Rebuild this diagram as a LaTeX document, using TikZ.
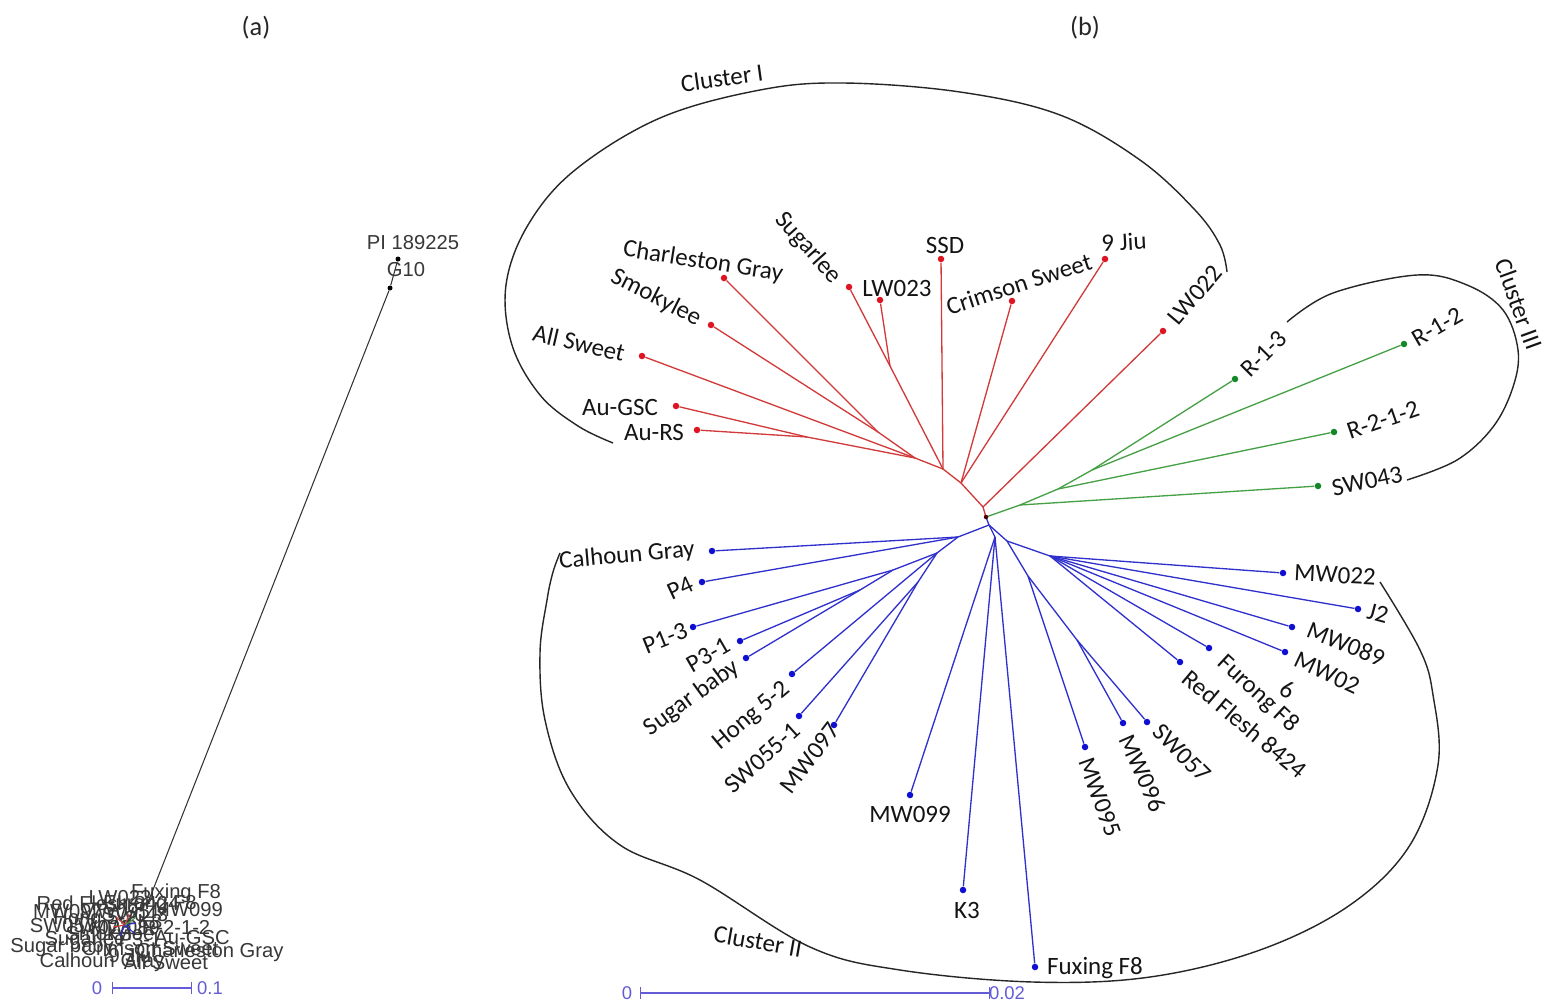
\documentclass[tikz,border=0pt]{standalone}
\usepackage{fontspec}
\setmainfont{Carlito}
\newfontfamily\arialf{Liberation Sans}
\definecolor{rl}{RGB}{210,58,58}
\definecolor{rd}{RGB}{222,20,35}
\definecolor{gl}{RGB}{70,160,70}
\definecolor{gd}{RGB}{20,135,40}
\definecolor{bl}{RGB}{48,48,205}
\definecolor{bd}{RGB}{15,15,210}
\definecolor{sc}{RGB}{100,92,215}
\begin{document}
\begin{tikzpicture}[x=0.02cm,y=-0.02cm,
  lab/.style={font=\fontsize{14.2}{16}\selectfont,text=black!92,inner sep=0pt},
  ttl/.style={font=\fontsize{15}{17}\selectfont,text=black!85,inner sep=0pt},
  al/.style={font=\arialf\fontsize{11.5}{13}\selectfont,text=black!78,inner sep=0pt},
  scl/.style={font=\arialf\fontsize{10.5}{12}\selectfont,text=sc,inner sep=0pt},
  leaf/.style={circle,inner sep=0pt,minimum size=0.13cm},
  rdot/.style={leaf,fill=rd},
  gdot/.style={leaf,fill=gd},
  bdot/.style={leaf,fill=bd},
  adot/.style={circle,inner sep=0pt,minimum size=0.1cm,fill=black},
  rbr/.style={draw=rl,line width=0.75pt},
  gbr/.style={draw=gl,line width=0.75pt},
  bbr/.style={draw=bl,line width=0.75pt},
  arcl/.style={draw=black!85,line width=0.8pt},
]
\useasboundingbox (0,0) rectangle (1551,1001);
\fill[white] (0,0) rectangle (1551,1001);

% titles
\node[ttl] (ta) at (256,28) {(a)};
\node[ttl] (tb) at (1085,28) {(b)};

% ---------------- panel (a) ----------------
\node[adot] (api) at (398,259) {};
\node[adot] (ag10) at (390,288) {};
\coordinate (acen) at (147,905);
\draw[black!80,line width=0.6pt] (api) -- (ag10) -- (acen);
\node[al] (tpi) at (413,243) {PI 189225};
\node[al] (tg10) at (406,270) {G10};

\node[al] (a1) at (176,893) {Fuxing F8};
\node[al] (a2) at (108,903) {Red Flesh 8424};
\node[al] (a3) at (188,910) {MW099};
\node[al] (a4) at (68,912) {MW097};
\node[al] (a5) at (63,926) {SW057};
\node[al] (a6) at (176,927) {R-2-1-2};
\node[al] (a7) at (192,938) {Au-GSC};
\node[al] (a8) at (62,947) {Sugar baby};
\node[al] (a9) at (210,952) {Charleston Gray};
\node[al] (a10) at (150,948) {Crimson Sweet};
\node[al] (a11) at (102,962) {Calhoun Gray};
\node[al] (a12) at (166,962) {All Sweet};
\node[al] (a13) at (120,898) {LW022};
\node[al] (a14) at (95,920) {Hong 5-2};
\node[al] (a15) at (135,915) {SW043};
\node[al] (a16) at (110,935) {Smokylee};
\node[al] (a17) at (150,905) {Furong F8};
\node[al] (a18) at (85,940) {Sugarlee};
\node[al] (a20) at (125,928) {MW089};
\node[al] (a21) at (115,912) {MW095};
\node[al] (a22) at (140,940) {P3-1};
\node[al] (a23) at (100,928) {LW023};
\node[al] (a24) at (150,922) {K3};
\node[al] (a25) at (130,955) {9 Jiu};
\coordinate (ast) at (125,925);
\draw[rl,line width=0.6pt] (ast) -- ++(-9,-8) (ast) -- ++(4,-11) (ast) -- ++(-12,2);
\draw[bl,line width=0.6pt] (ast) -- ++(9,8) (ast) -- ++(-5,11) (ast) -- ++(11,-2);
\draw[gl,line width=0.6pt] (ast) -- ++(10,-7);

% scale bar (a)
\node[scl] (sa0) at (97,988) {0};
\node[scl] (sa1) at (210,988) {0.1};
\coordinate (saL) at (112,988);
\coordinate (saR) at (192,988);
\draw[sc,line width=0.6pt,|-|] (saL) -- (saR);

% ---------------- panel (b) ----------------
% red leaves
\node[rdot] (CG) at (724,278) {};
\node[rdot] (SM) at (711,325) {};
\node[rdot] (AS) at (642,356) {};
\node[rdot] (AG) at (676,406) {};
\node[rdot] (AR) at (697,430) {};
\node[rdot] (SU) at (849,287) {};
\node[rdot] (LW23) at (880,300) {};
\node[rdot] (SSD) at (941,259) {};
\node[rdot] (CS) at (1012,301) {};
\node[rdot] (J9) at (1105,259) {};
\node[rdot] (LW22) at (1163,331) {};
% green leaves
\node[gdot] (R13) at (1235,379) {};
\node[gdot] (R12) at (1404,344) {};
\node[gdot] (R212) at (1334,432) {};
\node[gdot] (SW43) at (1318,486) {};
% blue leaves
\node[bdot] (CH) at (712,551) {};
\node[bdot] (P4) at (702,582) {};
\node[bdot] (P13) at (693,627) {};
\node[bdot] (P31) at (740,641) {};
\node[bdot] (SB) at (746,658) {};
\node[bdot] (H52) at (792,674) {};
\node[bdot] (SW551) at (799,716) {};
\node[bdot] (MW97) at (834,725) {};
\node[bdot] (MW99) at (910,795) {};
\node[bdot] (K3) at (963,890) {};
\node[bdot] (FX) at (1035,967) {};
\node[bdot] (MW95) at (1085,747) {};
\node[bdot] (MW96) at (1123,723) {};
\node[bdot] (SW57) at (1147,722) {};
\node[bdot] (RF) at (1180,662) {};
\node[bdot] (FU) at (1209,648) {};
\node[bdot] (MW26) at (1285,652) {};
\node[bdot] (MW89) at (1292,627) {};
\node[bdot] (J2) at (1358,609) {};
\node[bdot] (MW22) at (1283,573) {};

% internal nodes
\coordinate (R0) at (986,517);
\coordinate (r1) at (983,507);
\coordinate (r2) at (961,483);
\coordinate (r3) at (943,469);
\coordinate (r4) at (915,458);
\coordinate (r5) at (890,366);
\coordinate (r6) at (878,432);
\coordinate (r7) at (807,437);
\coordinate (g1) at (1020,505);
\coordinate (g2) at (1058,489);
\coordinate (g3) at (1092,470);
\coordinate (b0) at (989,525);
\coordinate (bl1) at (958,537);
\coordinate (bl2) at (937,553);
\coordinate (bl3) at (893,570);
\coordinate (bl5) at (860,590);
\coordinate (bl4) at (918,582);
\coordinate (bdn) at (995,537);
\coordinate (br1) at (1007,541);
\coordinate (br2) at (1050,556);
\coordinate (br3) at (1028,576);
\coordinate (br4) at (1077,640);

% red branches
\draw[rbr] (R0) -- (r1) -- (LW22);
\draw[rbr] (r1) -- (r2) -- (J9);
\draw[rbr] (r2) -- (CS);
\draw[rbr] (r2) -- (r3) -- (SSD);
\draw[rbr] (r3) -- (r5) -- (SU);
\draw[rbr] (r5) -- (LW23);
\draw[rbr] (r3) -- (r4) -- (r6) -- (CG);
\draw[rbr] (r6) -- (SM);
\draw[rbr] (r4) -- (AS);
\draw[rbr] (r4) -- (r7) -- (AG);
\draw[rbr] (r7) -- (AR);
% green branches
\draw[gbr] (R0) -- (g1) -- (SW43);
\draw[gbr] (g1) -- (g2) -- (R212);
\draw[gbr] (g2) -- (g3) -- (R13);
\draw[gbr] (g3) -- (R12);
% blue branches
\draw[bbr] (R0) -- (b0) -- (bl1) -- (CH);
\draw[bbr] (bl1) -- (P4);
\draw[bbr] (bl1) -- (bl2) -- (H52);
\draw[bbr] (bl2) -- (bl3) -- (P13);
\draw[bbr] (bl3) -- (bl5) -- (P31);
\draw[bbr] (bl5) -- (SB);
\draw[bbr] (bl2) -- (bl4) -- (SW551);
\draw[bbr] (bl4) -- (MW97);
\draw[bbr] (b0) -- (bdn) -- (MW99);
\draw[bbr] (bdn) -- (K3);
\draw[bbr] (bdn) -- (FX);
\draw[bbr] (b0) -- (br1) -- (br2) -- (MW22);
\draw[bbr] (br2) -- (J2);
\draw[bbr] (br2) -- (MW89);
\draw[bbr] (br2) -- (MW26);
\draw[bbr] (br2) -- (FU);
\draw[bbr] (br2) -- (RF);
\draw[bbr] (br1) -- (br3) -- (MW95);
\draw[bbr] (br3) -- (br4) -- (MW96);
\draw[bbr] (br4) -- (SW57);
\fill[black!70!red] (R0) circle (0.045cm);

% red labels
\node[lab,rotate=-9] (tCG) at (703,262) {Charleston Gray};
\node[lab,rotate=-27] (tSM) at (656,298) {Smokylee};
\node[lab,rotate=-13] (tAS) at (579,343) {All Sweet};
\node[lab] (tAG) at (620,407) {Au-GSC};
\node[lab] (tAR) at (654,432) {Au-RS};
\node[lab,rotate=-48] (tSU) at (808,248) {Sugarlee};
\node[lab] (tLW23) at (897,288) {LW023};
\node[lab] (tSSD) at (945,245) {SSD};
\node[lab,rotate=18] (tCS) at (1019,284) {Crimson Sweet};
\node[lab,rotate=3] (tJ9) at (1124,242) {9 Jiu};
\node[lab,rotate=50] (tLW22) at (1195,295) {LW022};
% green labels
\node[lab,rotate=45] (tR13) at (1264,354) {R-1-3};
\node[lab,rotate=30] (tR12) at (1437,327) {R-1-2};
\node[lab,rotate=19] (tR212) at (1383,420) {R-2-1-2};
\node[lab,rotate=12] (tSW43) at (1367,481) {SW043};
% blue labels
\node[lab,rotate=5] (tCH) at (627,556) {Calhoun Gray};
\node[lab,rotate=25] (tP4) at (680,588) {P4};
\node[lab,rotate=22] (tP13) at (665,638) {P1-3};
\node[lab,rotate=30] (tP31) at (708,655) {P3-1};
\node[lab,rotate=36] (tSB) at (692,698) {Sugar baby};
\node[lab,rotate=40] (tH52) at (752,716) {Hong 5-2};
\node[lab,rotate=42] (tSW551) at (762,758) {SW055-1};
\node[lab,rotate=53] (tMW97) at (810,758) {MW097};
\node[lab] (tMW99) at (910,814) {MW099};
\node[lab] (tK3) at (967,910) {K3};
\node[lab] (tFX) at (1095,968) {Fuxing F8};
\node[lab,rotate=-3] (tMW22) at (1335,575) {MW022};
\node[lab,rotate=-15] (tJ2) at (1378,613) {J2};
\node[lab,rotate=-22] (tMW89) at (1346,644) {MW089};
\node[lab,rotate=-25] (tMW26) at (1327,673) {MW02};
\node[lab,rotate=-25] (tMW26b) at (1287,690) {6};
\node[lab,rotate=-43] (tFU) at (1258,694) {Furong F8};
\node[lab,rotate=-40] (tRF) at (1245,724) {Red Flesh 8424};
\node[lab,rotate=-45] (tSW57) at (1182,753) {SW057};
\node[lab,rotate=-66] (tMW96) at (1143,773) {MW096};
\node[lab,rotate=-70] (tMW95) at (1100,797) {MW095};

% cluster arcs
\draw[arcl] plot[smooth,tension=0.6] coordinates {(613,443) (578,426) (540,395) (512,345) (506,285) (528,225) (575,170) (660,118) (760,90) (843,83) (960,92) (1060,115) (1140,160) (1195,210) (1220,245) (1227,272)};
\node[lab,rotate=8] (tC1) at (722,78) {Cluster I};

\draw[arcl] plot[smooth,tension=0.6] coordinates {(560,553) (553,572) (547,600) (540,653) (545,720) (570,790) (620,845) (700,880) (810,947) (900,970) (1033,982) (1150,977) (1260,950) (1350,905) (1410,845) (1438,765) (1433,695) (1420,650) (1380,582)};
\node[lab,rotate=-10] (tC2) at (758,941) {Cluster II};

\draw[arcl] plot[smooth,tension=0.6] coordinates {(1287,322) (1333,293) (1417,275) (1467,285) (1503,310) (1518,350) (1513,387) (1493,427) (1457,460) (1407,480)};
\node[lab,rotate=-70] (tC3) at (1519,304) {Cluster III};

% scale bar (b)
\node[scl] (sb0) at (627,993) {0};
\node[scl] (sb1) at (1007,993) {0.02};
\coordinate (sbL) at (640,993);
\coordinate (sbR) at (990,993);
\draw[sc,line width=0.7pt,|-|] (sbL) -- (sbR);
\end{tikzpicture}
\end{document}
